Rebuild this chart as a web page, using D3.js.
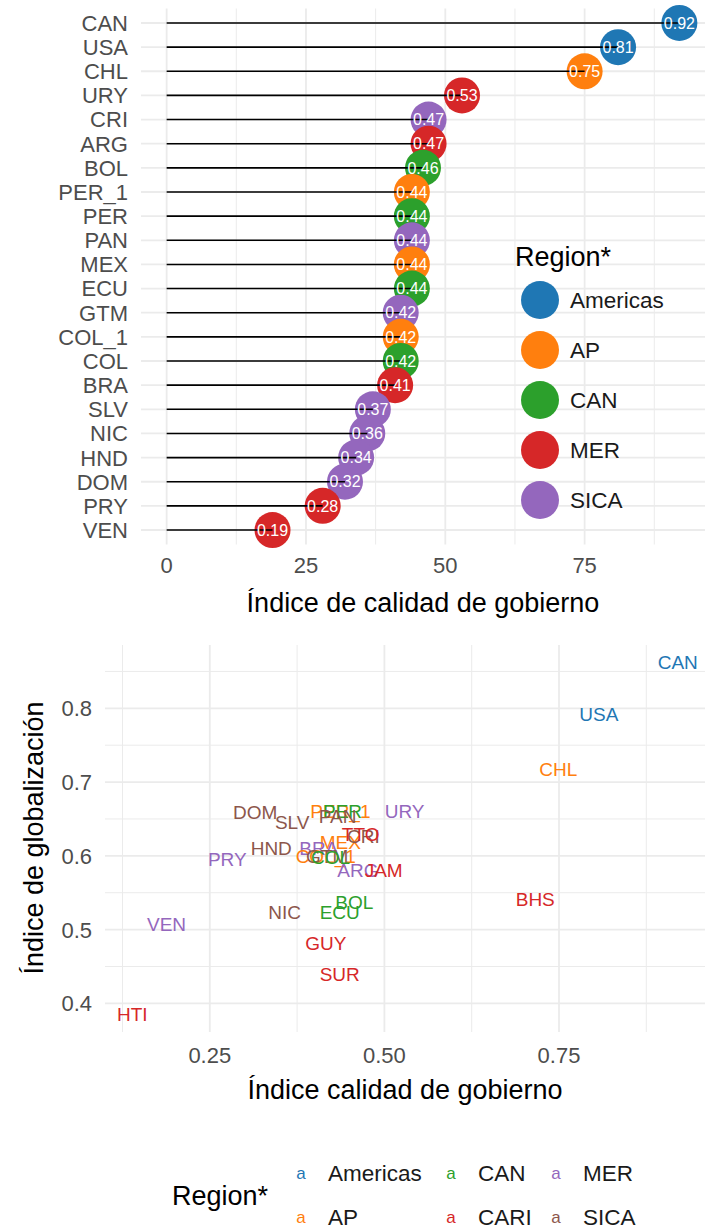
<!DOCTYPE html>
<html>
<head>
<meta charset="utf-8">
<script src="https://cdn.jsdelivr.net/npm/d3@7"></script>
<style>
  body { margin: 0; background: #fff; }
  text { font-family: "Liberation Sans", Arial, sans-serif; }
</style>
</head>
<body>
<div id="scene"></div>
<script>
// ---- top chart: lollipop ----
const topCountries = ["CAN","USA","CHL","URY","CRI","ARG","BOL","PER_1","PER","PAN","MEX","ECU","GTM","COL_1","COL","BRA","SLV","NIC","HND","DOM","PRY","VEN"];
const topValues = [0.92,0.81,0.75,0.53,0.47,0.47,0.46,0.44,0.44,0.44,0.44,0.44,0.42,0.42,0.42,0.41,0.37,0.36,0.34,0.32,0.28,0.19];
const topRegions = ["Americas","Americas","AP","MER","SICA","MER","CAN","AP","CAN","SICA","AP","CAN","SICA","AP","CAN","MER","SICA","SICA","SICA","SICA","MER","MER"];
const topRegionList = ["Americas","AP","CAN","MER","SICA"];
const topTicks = [0, 25, 50, 75];

// ---- bottom chart: text scatter ----
const scatCountries = ["CAN","USA","CHL","URY","DOM","SLV","PER_1","PER","PAN","MEX","CRI","TTO","HND","BRA","COL_1","GTM","COL","ARG","JAM","BHS","BOL","ECU","NIC","VEN","GUY","SUR","HTI","PRY"];
const scatGov = [0.920,0.807,0.749,0.529,0.315,0.368,0.437,0.440,0.433,0.437,0.470,0.466,0.338,0.406,0.416,0.418,0.423,0.462,0.499,0.716,0.457,0.436,0.357,0.188,0.416,0.436,0.139,0.275];
const scatGlob = [0.862,0.792,0.718,0.661,0.659,0.645,0.660,0.660,0.654,0.619,0.626,0.629,0.610,0.611,0.599,0.600,0.598,0.581,0.580,0.541,0.537,0.523,0.523,0.508,0.482,0.439,0.385,0.595];
const scatRegions = ["Americas","Americas","AP","MER","SICA","SICA","AP","CAN","SICA","AP","SICA","CARI","SICA","MER","AP","SICA","CAN","MER","CARI","CARI","CAN","CAN","SICA","MER","CARI","CARI","CARI","MER"];
const scatRegionList = ["Americas","AP","CAN","CARI","MER","SICA"];
const scatXTicks = [0.25, 0.5, 0.75];
const scatYTicks = [0.4, 0.5, 0.6, 0.7, 0.8];

const palette = ["#1F77B4","#FF7F0E","#2CA02C","#D62728","#9467BD","#8C564B"];
const gridCol = "#EBEBEB";
const tickCol = "#4D4D4D";

const svg = d3.select("#scene").append("svg")
  .attr("width", 711)
  .attr("height", 1229);

// expand like ggplot (5% each side)
function expand(lo, hi) {
  const m = (hi - lo) * 0.05;
  return [lo - m, hi + m];
}

// ================= TOP =================
const topData = topCountries.map((c, i) => ({ country: c, value: topValues[i] * 100, region: topRegions[i] }));
const tColor = d3.scaleOrdinal().domain(topRegionList).range(palette);

const tx = d3.scaleLinear().domain(expand(0, d3.max(topData, d => d.value))).range([141, 705]);
const ty = d3.scalePoint().domain(topCountries).range([8.5, 544.5]).padding(0.6);

const topG = svg.append("g");

// minor grid
const tMinor = d3.range(12.5, 100, 25).filter(v => tx(v) <= 705);
topG.selectAll(".tminor").data(tMinor).enter().append("line")
  .attr("x1", d => tx(d)).attr("x2", d => tx(d))
  .attr("y1", 8.5).attr("y2", 544.5)
  .style("stroke", gridCol).style("stroke-width", 1);
topG.selectAll(".tmajor").data(topTicks).enter().append("line")
  .attr("x1", d => tx(d)).attr("x2", d => tx(d))
  .attr("y1", 8.5).attr("y2", 544.5)
  .style("stroke", gridCol).style("stroke-width", 1.8);
topG.selectAll(".trow").data(topCountries).enter().append("line")
  .attr("x1", 141).attr("x2", 705)
  .attr("y1", d => ty(d)).attr("y2", d => ty(d))
  .style("stroke", gridCol).style("stroke-width", 1.8);

// points
topG.selectAll(".pt").data(topData).enter().append("circle")
  .attr("cx", d => tx(d.value))
  .attr("cy", d => ty(d.country))
  .attr("r", 18)
  .style("fill", d => tColor(d.region));

// segments drawn over points
topG.selectAll(".seg").data(topData).enter().append("line")
  .attr("x1", tx(0)).attr("x2", d => tx(d.value))
  .attr("y1", d => ty(d.country)).attr("y2", d => ty(d.country))
  .style("stroke", "#000").style("stroke-width", 1.6);

topG.selectAll(".lbl").data(topData).enter().append("text")
  .attr("x", d => tx(d.value))
  .attr("y", d => ty(d.country))
  .attr("dy", "0.36em")
  .attr("text-anchor", "middle")
  .style("fill", "#fff")
  .style("font-size", "16px")
  .text(d => (d.value / 100).toFixed(2));

// axes (text only)
topG.selectAll(".ylab").data(topCountries).enter().append("text")
  .attr("x", 128).attr("y", d => ty(d)).attr("dy", "0.36em")
  .attr("text-anchor", "end")
  .style("fill", tickCol).style("font-size", "22px")
  .text(d => d);
topG.selectAll(".xlab").data(topTicks).enter().append("text")
  .attr("x", d => tx(d)).attr("y", 573)
  .attr("text-anchor", "middle")
  .style("fill", tickCol).style("font-size", "22px")
  .text(d => d);
topG.append("text")
  .attr("x", 423).attr("y", 612)
  .attr("text-anchor", "middle")
  .style("fill", "#000").style("font-size", "27px")
  .text("Índice de calidad de gobierno");

// legend
topG.append("text")
  .attr("x", 515).attr("y", 266)
  .style("font-size", "27px").style("fill", "#000")
  .text("Region*");
const tLeg = topG.selectAll(".tleg").data(topRegionList).enter().append("g")
  .attr("transform", (d, i) => `translate(540, ${300 + i * 50})`);
tLeg.append("circle").attr("r", 19).style("fill", d => tColor(d));
tLeg.append("text")
  .attr("x", 30).attr("dy", "0.36em")
  .style("font-size", "22.5px").style("fill", "#1a1a1a")
  .text(d => d);

// ================= BOTTOM =================
const scatData = scatCountries.map((c, i) => ({ country: c, gov: scatGov[i], glob: scatGlob[i], region: scatRegions[i] }));
const sColor = d3.scaleOrdinal().domain(scatRegionList).range(palette);

const sx = d3.scaleLinear().domain(expand(d3.min(scatGov), d3.max(scatGov))).range([105, 705]);
const sy = d3.scaleLinear().domain(expand(d3.min(scatGlob), d3.max(scatGlob))).range([1032, 645]);

const botG = svg.append("g");
const sxMinor = d3.range(0.125, 1, 0.25).filter(v => sx(v) >= 105 && sx(v) <= 705);
const syMinor = d3.range(0.35, 0.95, 0.1).filter(v => sy(v) <= 1032 && sy(v) >= 645);

botG.selectAll(".sxminor").data(sxMinor).enter().append("line")
  .attr("x1", d => sx(d)).attr("x2", d => sx(d)).attr("y1", 645).attr("y2", 1032)
  .style("stroke", gridCol).style("stroke-width", 1);
botG.selectAll(".syminor").data(syMinor).enter().append("line")
  .attr("y1", d => sy(d)).attr("y2", d => sy(d)).attr("x1", 105).attr("x2", 705)
  .style("stroke", gridCol).style("stroke-width", 1);
botG.selectAll(".sxmajor").data(scatXTicks).enter().append("line")
  .attr("x1", d => sx(d)).attr("x2", d => sx(d)).attr("y1", 645).attr("y2", 1032)
  .style("stroke", gridCol).style("stroke-width", 1.8);
botG.selectAll(".symajor").data(scatYTicks).enter().append("line")
  .attr("y1", d => sy(d)).attr("y2", d => sy(d)).attr("x1", 105).attr("x2", 705)
  .style("stroke", gridCol).style("stroke-width", 1.8);

botG.selectAll(".stxt").data(scatData).enter().append("text")
  .attr("x", d => sx(d.gov))
  .attr("y", d => sy(d.glob))
  .attr("dy", "0.36em")
  .attr("text-anchor", "middle")
  .style("font-size", "19px")
  .style("fill", d => sColor(d.region))
  .text(d => d.country);

botG.selectAll(".sxlab").data(scatXTicks).enter().append("text")
  .attr("x", d => sx(d)).attr("y", 1063)
  .attr("text-anchor", "middle")
  .style("fill", tickCol).style("font-size", "22px")
  .text(d => d3.format(".2f")(d));
botG.selectAll(".sylab").data(scatYTicks).enter().append("text")
  .attr("x", 92).attr("y", d => sy(d)).attr("dy", "0.36em")
  .attr("text-anchor", "end")
  .style("fill", tickCol).style("font-size", "22px")
  .text(d => d3.format(".1f")(d));

botG.append("text")
  .attr("x", 405).attr("y", 1099)
  .attr("text-anchor", "middle")
  .style("font-size", "27px").style("fill", "#000")
  .text("Índice calidad de gobierno");
botG.append("text")
  .attr("transform", "translate(43, 838) rotate(-90)")
  .attr("text-anchor", "middle")
  .style("font-size", "27px").style("fill", "#000")
  .text("Índice de globalización");

// bottom legend, 2 rows filled by column
botG.append("text")
  .attr("x", 172).attr("y", 1205)
  .style("font-size", "27px").style("fill", "#000")
  .text("Region*");
const colX = [301, 451, 556];
const sLeg = botG.selectAll(".sleg").data(scatRegionList).enter().append("g")
  .attr("transform", (d, i) => `translate(${colX[Math.floor(i / 2)]}, ${1173 + (i % 2) * 44})`);
sLeg.append("text")
  .attr("dy", "0.36em").attr("text-anchor", "middle")
  .style("font-size", "17px").style("fill", d => sColor(d))
  .text("a");
sLeg.append("text")
  .attr("x", 27).attr("dy", "0.36em")
  .style("font-size", "22.5px").style("fill", "#1a1a1a")
  .text(d => d);
</script>
</body>
</html>
